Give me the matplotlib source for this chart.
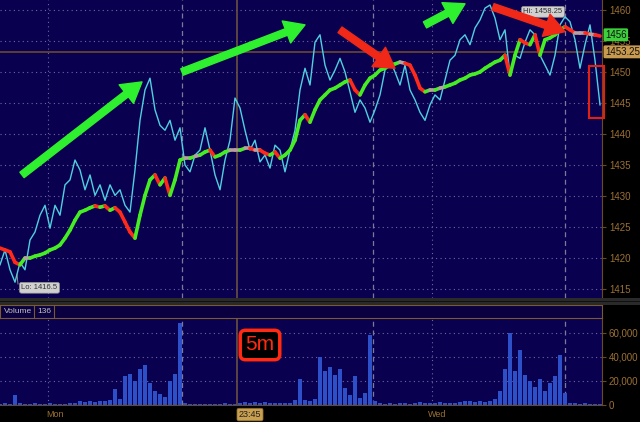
import numpy as np
import matplotlib
matplotlib.use('Agg')
import matplotlib.pyplot as plt
from matplotlib.collections import LineCollection
from matplotlib.patches import Rectangle
from matplotlib.ticker import FuncFormatter

# cijena (5m svece), jedna vrednost na svaki korak
price = [1421.6, 1421.3, 1421.0, 1419.3, 1418.9, 1420.0, 1420.0, 1420.3, 1420.5, 1420.8,
         1421.3, 1421.6, 1422.1, 1423.2, 1424.5, 1426.1, 1427.4, 1427.7, 1428.1, 1428.4,
         1428.2, 1428.4, 1427.7, 1428.1, 1427.4, 1425.8, 1424.2, 1423.2, 1426.9, 1430.1,
         1432.6, 1433.4, 1431.8, 1432.9, 1430.1, 1432.6, 1435.8, 1436.1, 1436.1, 1436.4,
         1436.6, 1437.1, 1437.4, 1436.3, 1436.6, 1437.1, 1437.4, 1437.4, 1437.4, 1437.7,
         1437.7, 1437.4, 1437.4, 1436.9, 1436.6, 1437.1, 1436.1, 1436.6, 1437.4, 1439.0,
         1442.2, 1443.1, 1441.9, 1443.9, 1445.5, 1446.3, 1447.1, 1447.4, 1447.9, 1448.4,
         1448.7, 1447.1, 1446.3, 1447.9, 1449.0, 1449.5, 1450.3, 1450.6, 1451.1, 1451.3,
         1451.6, 1451.4, 1451.1, 1449.5, 1447.4, 1446.8, 1447.1, 1447.1, 1447.4, 1447.6,
         1447.9, 1448.2, 1448.7, 1449.0, 1449.5, 1449.7, 1450.0, 1450.6, 1451.1, 1451.6,
         1451.9, 1452.7, 1449.5, 1452.7, 1455.2, 1454.7, 1454.4, 1456.0, 1452.7, 1455.2,
         1455.5, 1456.0, 1456.8, 1457.3, 1456.8, 1456.3, 1456.3, 1456.3, 1456.1, 1456.0,
         1455.8]

# indikator (cijan linija), na istoj skali
indic = [1418.9, 1421.3, 1418.1, 1416.1, 1419.3, 1418.1, 1422.9, 1424.2, 1426.9, 1428.5,
         1424.8, 1428.5, 1426.9, 1431.8, 1432.6, 1435.8, 1434.2, 1431.0, 1433.4, 1430.1,
         1431.8, 1429.3, 1431.8, 1430.1, 1431.0, 1428.5, 1427.4, 1434.2, 1442.2, 1447.1,
         1449.0, 1443.9, 1441.4, 1440.6, 1442.2, 1439.0, 1441.0, 1435.0, 1433.9, 1436.6,
         1437.4, 1441.0, 1437.4, 1433.4, 1431.0, 1435.8, 1439.0, 1445.8, 1444.2, 1440.6,
         1437.4, 1439.0, 1435.5, 1436.6, 1434.5, 1438.2, 1437.4, 1433.9, 1437.4, 1440.6,
         1447.1, 1450.6, 1447.9, 1454.8, 1456.0, 1451.1, 1448.7, 1450.3, 1452.2, 1450.0,
         1446.8, 1443.5, 1445.5, 1444.2, 1441.9, 1443.9, 1446.3, 1450.3, 1451.9, 1450.0,
         1447.9, 1451.1, 1447.1, 1445.5, 1443.5, 1442.2, 1444.7, 1446.3, 1445.5, 1448.7,
         1451.9, 1452.7, 1455.2, 1456.0, 1454.4, 1457.1, 1458.4, 1460.3, 1460.8, 1458.7,
         1455.2, 1456.8, 1449.5, 1452.7, 1452.2, 1454.8, 1456.8, 1456.0, 1452.7, 1451.1,
         1449.5, 1452.7, 1457.6, 1458.9, 1458.1, 1455.2, 1450.6, 1454.4, 1457.6, 1451.9,
         1444.7]

volume = [1000, 1500, 1000, 8000, 1500, 1000, 1000, 2000, 1000, 1000, 1500, 1000, 1000, 1000,
          1500, 2000, 3000, 2500, 3000, 2500, 3000, 3500, 4000, 13000,
          5000, 24000, 26000, 20000, 30000, 33000, 18000, 12000, 9000, 7000, 20000, 26000, 68000,
          1500, 1000, 1200, 1000, 1200, 1000, 1200, 1000, 1500, 1200, 1000,
          1500, 2500, 2000, 2500, 2000, 2500, 2000, 2000, 2000, 1500, 2000, 4000,
          22000, 4000, 3000, 5000, 40000, 28000, 32000, 25000, 30000, 14000, 8000, 24000, 6000,
          10000, 58000,
          3000, 1500, 1000, 1500, 1200, 1500, 1500, 1200, 2000, 2500, 2000, 1500, 2000, 2500,
          2000, 1500, 2000, 2500, 3000, 3000, 2500, 3000, 2500, 3000, 5000,
          12000, 30000, 60000, 28000, 46000, 25000, 20000, 15000, 22000, 12000, 18000, 24000,
          42000, 10000,
          2000, 1500, 1000, 1500, 1000, 1200, 1000]

price_ticks = [1415, 1420, 1425, 1430, 1435, 1440, 1445, 1450, 1455, 1460]
vol_ticks = [0, 20000, 40000, 60000]
last_price = 1456
ref_price = 1453.25
lo_price = 1416.5
hi_price = 1458.25
day_labels = ['Mon', '23:45', 'Wed']
day_pos = [11, 50, 87.4]

navy = '#0a0050'
brown = '#9c7034'
grid_c = '#6a6a9a'

W, H = 640, 422
def box(x0, y0, x1, y1):
    return [x0 / W, 1 - y1 / H, (x1 - x0) / W, (y1 - y0) / H]

plt.rcParams['font.family'] = ['Liberation Sans', 'DejaVu Sans']
fig = plt.figure(figsize=(6.4, 4.22), dpi=100, facecolor='black')

ax = fig.add_axes(box(0, 0, 602, 298))
vax = fig.add_axes(box(0, 318, 602, 405))
hax = fig.add_axes(box(0, 305, 602, 318))

x = np.arange(len(price))

for a in (ax, vax):
    a.set_facecolor(navy)
    a.set_xlim(0, 120.4)
    for s in ('top', 'left', 'bottom'):
        a.spines[s].set_visible(False)
    a.spines['right'].set_color('#6a4a20')
    a.yaxis.tick_right()
    a.tick_params(axis='y', colors='#6a4a20', labelcolor=brown, labelsize=7,
                  length=3, pad=2)
    a.tick_params(axis='x', bottom=False, labelbottom=False)
    a.grid(axis='y', color=grid_c, linestyle=(0, (1, 3)), linewidth=0.8)
    for xv in (9.6, 86.4):
        a.axvline(xv, color=grid_c, linestyle=(0, (1, 3)), linewidth=0.8)
    for xv in (36.4, 74.6, 113):
        a.axvline(xv, color='#7a7a9a', linestyle=(0, (4, 3)), linewidth=0.9)
    a.axvline(47.4, color='#6a5040', linewidth=1.2)

# glavni panel
ax.set_ylim(1413.55, 1461.61)
ax.set_yticks(price_ticks)
ax.axhline(ref_price, color='#6a4a30', linewidth=1.2)

ax.plot(x, indic, color='#4fd0e0', linewidth=1.0, zorder=3)

pts = np.column_stack([x, price])
segs = np.stack([pts[:-1], pts[1:]], axis=1)
d = np.diff(price)
cols = ['#b8a0a0' if abs(v) < 0.2 else ('#44ee22' if v > 0 else '#ff2a1a') for v in d]
ax.add_collection(LineCollection(segs, colors=cols, linewidths=2.6, zorder=4,
                                 capstyle='round'))

# strelice
arrow_style = 'simple,head_length=1.1,head_width=1.3,tail_width=0.38'
for (x0, y0, x1, y1, c) in [(4.4, 1433.4, 28.4, 1448.4, '#2ef02e'),
                            (36.4, 1450.0, 61, 1457.6, '#2ef02e'),
                            (85, 1457.6, 93, 1461.0, '#2ef02e'),
                            (68, 1456.8, 79, 1450.6, '#f02818'),
                            (98.6, 1460.5, 113, 1456.5, '#f02818')]:
    ax.annotate('', xy=(x1, y1), xytext=(x0, y0),
                arrowprops=dict(arrowstyle=arrow_style, color=c, mutation_scale=13,
                                shrinkA=0, shrinkB=0), zorder=6, annotation_clip=False)

ax.add_patch(Rectangle((117.8, 1442.6), 3.0, 8.4, fill=False, edgecolor='#e02010',
                       linewidth=1.5, clip_on=False, zorder=7))

ax.text(7.9, 1415.2, 'Lo: %.1f' % lo_price, fontsize=5.5, color='#303030',
        ha='center', va='center', zorder=8,
        bbox=dict(boxstyle='round,pad=0.25', fc='#d0d0d0', ec='#909090', lw=0.5))
ax.plot([3.4, 3.6], [1417.4, 1415.8], color='#a0a0a0', lw=0.6, zorder=7)
ax.text(108.6, 1459.7, 'Hi: %.2f' % hi_price, fontsize=5.5, color='#303030',
        ha='center', va='center', zorder=2,
        bbox=dict(boxstyle='round,pad=0.25', fc='#d0d0d0', ec='#909090', lw=0.5))

ytr = ax.get_yaxis_transform()
ax.text(1.005, last_price, '%d' % last_price, transform=ytr, fontsize=7, color='#101010',
        ha='left', va='center', clip_on=False, zorder=9,
        bbox=dict(boxstyle='round,pad=0.15', fc='#3cd03c', ec='none'))
ax.text(1.005, ref_price, '%.2f' % ref_price, transform=ytr, fontsize=7, color='#101010',
        ha='left', va='center', clip_on=False, zorder=9,
        bbox=dict(boxstyle='round,pad=0.15', fc='#c89a50', ec='none'))

# volumen
vax.set_ylim(0, 72500)
vax.set_yticks(vol_ticks)
vax.yaxis.set_major_formatter(FuncFormatter(lambda v, p: '{:,.0f}'.format(v)))
vax.bar(x, volume, width=0.8, color='#2d4fc8', edgecolor='none', zorder=3)
vax.spines['bottom'].set_visible(True)
vax.spines['bottom'].set_color('#6a4a20')

vax.text(52, 50000, '5m', fontsize=15, color='#ff2a10', ha='center', va='center', zorder=8,
         bbox=dict(boxstyle='round,pad=0.25', fc='black', ec='#ff2a10', lw=2.5))

xtr = vax.get_xaxis_transform()
for lab, xp in zip(day_labels, day_pos):
    if ':' in lab:
        vax.text(xp, -0.11, lab, transform=xtr, fontsize=6.5, color='#202020',
                 ha='center', va='center', clip_on=False,
                 bbox=dict(boxstyle='round,pad=0.2', fc='#c8a050', ec='#806030', lw=0.5))
    else:
        vax.text(xp, -0.11, lab, transform=xtr, fontsize=6.5, color=brown,
                 ha='center', va='center', clip_on=False)

# zaglavlje volumena
hax.set_facecolor('#0a0040')
hax.set_xlim(0, 602)
hax.set_ylim(0, 1)
hax.set_xticks([])
hax.set_yticks([])
for s in hax.spines.values():
    s.set_color('#7a5a30')
hax.axvline(34, color='#7a5a30', lw=0.8)
hax.axvline(54, color='#7a5a30', lw=0.8)
hax.text(4, 0.5, 'Volume', fontsize=6, color='#c0c0c0', va='center')
hax.text(37, 0.5, '136', fontsize=6, color='#c0c0c0', va='center')

# razdelnik izmedju panela
fig.patches.append(Rectangle((0, 1 - 305 / H), 1, 7 / H, transform=fig.transFigure,
                             facecolor='#2a2a2a', edgecolor='none'))
fig.patches.append(Rectangle((0, 1 - 302 / H), 1, 1 / H, transform=fig.transFigure,
                             facecolor='#101010', edgecolor='none'))

fig.savefig('out.png', dpi=100, facecolor='black')
